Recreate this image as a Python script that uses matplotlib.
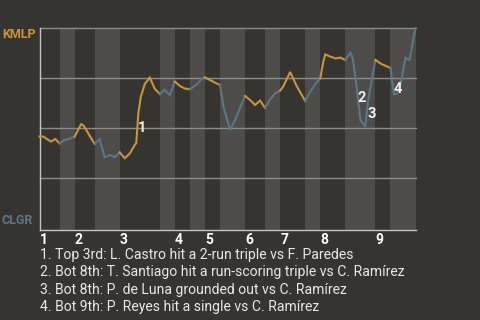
import matplotlib
matplotlib.use("Agg")
import matplotlib.pyplot as plt

plt.rcParams['font.family'] = ['Roboto', 'DejaVu Sans']

# half-inning boundaries (plate appearance index)
half_starts = [0, 4, 7, 11, 16, 24, 27, 30, 33, 36, 41, 45, 48, 53, 56, 61, 67, 70, 75]
inning_labels = ['1', '2', '3', '4', '5', '6', '7', '8', '9']

# win probability for KMLP along the game
pa = [0, 0.8, 1.3, 2.3, 3.15, 4, 5, 6, 7, 8.3, 8.8, 11, 11.5, 12, 13, 13.6, 14, 15, 16,
      17, 18, 19, 19.3, 19.7, 20.2, 21, 22, 23, 24, 24.9, 26, 27, 28, 29, 30, 31.5, 32.3,
      33, 34, 35, 36, 36.7, 38, 39, 40, 41, 42, 43, 44, 45, 46, 47, 48, 48.6, 50, 51.3,
      53, 54, 55, 56, 56.6, 57, 58, 59, 60, 61, 62, 62.5, 63.4, 64, 65, 65.5, 66.2, 67,
      68.2, 70, 70.7, 71.2, 72, 73, 73.8, 74.6, 75]
wp = [.457, .457, .448, .432, .445, .423, .44, .445, .457, .519, .512, .42, .432, .444,
      .354, .36, .365, .354, .378, .349, .372, .415, .425, .57, .655, .72, .752, .696,
      .67, .69, .665, .732, .71, .697, .694, .72, .745, .753, .74, .727, .715, .607, .49,
      .54, .6, .66, .64, .615, .637, .6, .644, .673, .687, .707, .78, .71, .635, .68,
      .72, .748, .83, .868, .857, .848, .852, .84, .877, .848, .68, .54, .507, .63, .73,
      .84, .82, .8, .67, .67, .715, .85, .84, .95, 1.0]

# key plays
key_x = [20.5, 64.3, 66.3, 71.5]
key_y = [0.5, 0.65, 0.57, 0.695]
key_text = ["1. Top 3rd: L. Castro hit a 2-run triple vs F. Paredes",
            "2. Bot 8th: T. Santiago hit a run-scoring triple vs C. Ramírez",
            "3. Bot 8th: P. de Luna grounded out vs C. Ramírez",
            "4. Bot 9th: P. Reyes hit a single vs C. Ramírez"]

bg = '#363431'
band = '#4e4c4a'
gold = '#c8953a'
blue = '#5b7686'

fig = plt.figure(figsize=(4.8, 3.2), dpi=100, facecolor=bg)
ax = fig.add_axes([39.5/480, 1-230/320, 376/480, 202/320])
ax.set_facecolor(bg)
ax.set_xlim(0, 75)
ax.set_ylim(-0.01, 1.0)

# shade bottom halves
for k in range(len(half_starts)-1):
    if k % 2 == 1:
        ax.axvspan(half_starts[k], half_starts[k+1], color=band, lw=0, zorder=0)

for g in [0.25, 0.5, 0.75, 1.0]:
    ax.axhline(g, color='#8e8c89', lw=1, zorder=1, clip_on=False)

# line coloured by batting team
for k in range(len(half_starts)-1):
    a, b = half_starts[k], half_starts[k+1]
    xs = [x for x in pa if a <= x <= b]
    ys = [y for x, y in zip(pa, wp) if a <= x <= b]
    ax.plot(xs, ys, color=gold if k % 2 == 0 else blue, lw=1.5, zorder=3,
            solid_joinstyle='miter', clip_on=False)

for i in range(len(key_x)):
    ax.text(key_x[i], key_y[i], str(i+1), color='#f0f0f0', fontsize=10.5,
            fontweight='bold', ha='center', va='center', zorder=4)

for s in ['top', 'right']:
    ax.spines[s].set_visible(False)
for s in ['left', 'bottom']:
    ax.spines[s].set_color('#c4c4c4')
    ax.spines[s].set_linewidth(1)

ax.set_yticks([])
ax.set_xticks(half_starts[0:-1:2])
ax.set_xticklabels(inning_labels)
ax.tick_params(axis='x', length=0, pad=2, colors='white', labelsize=10)
for lbl in ax.get_xticklabels():
    lbl.set_ha('left')
    lbl.set_fontweight('bold')

fig.text(2/480, 1-35/320, 'KMLP', color=gold, fontsize=9, fontweight='bold', va='center')
fig.text(2/480, 1-221/320, 'CLGR', color=blue, fontsize=9, fontweight='bold', va='center')

for i, t in enumerate(key_text):
    fig.text(40/480, 1-(254.5+17.6*i)/320, t, color='#e8e8e8', fontsize=10.1, va='center')

plt.savefig('out.png', dpi=100, facecolor=bg)
